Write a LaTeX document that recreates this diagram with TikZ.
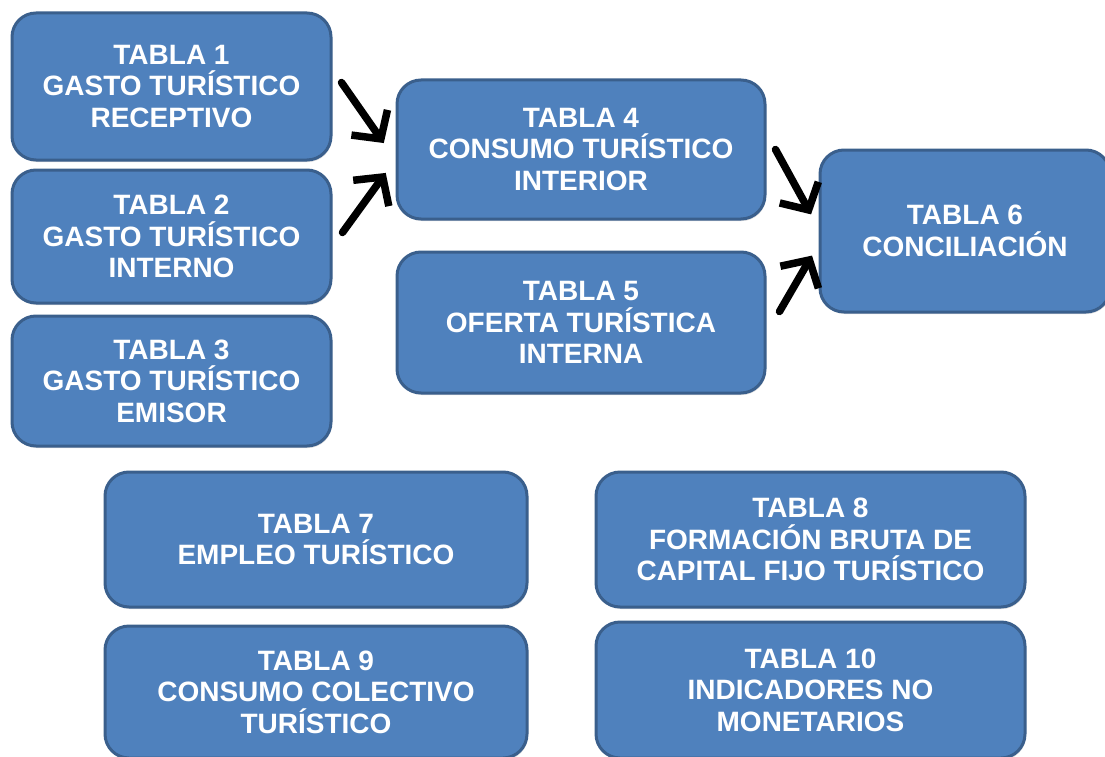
\documentclass[tikz,border=0pt]{standalone}
\usepackage{fontspec}
\setmainfont{Liberation Sans}
\usetikzlibrary{arrows.meta,calc,shadows}
\definecolor{boxfill}{HTML}{4F81BD}
\definecolor{boxline}{HTML}{3A5F8C}
\begin{document}
\begin{tikzpicture}[x=1pt,y=-1pt,
  tbox/.style={draw=boxline, line width=3pt, fill=boxfill, rounded corners=24pt,
    inner sep=0pt, align=center, text=white,
    font=\fontsize{28}{31.5}\selectfont\bfseries,
    drop shadow={opacity=0.25, shadow xshift=1pt, shadow yshift=-2pt}},
  arr/.style={line width=7.5pt, line cap=round, shorten >=3pt, -{Straight Barb[length=20pt,width=44pt,line width=7.5pt]}}
]
\useasboundingbox (0,0) rectangle (1105,757);
\clip (0,0) rectangle (1105,757);
\node[tbox, minimum width=319pt, minimum height=147pt] (t1) at (171.5,86.5) {TABLA 1\\GASTO TURÍSTICO\\RECEPTIVO};
\node[tbox, minimum width=319pt, minimum height=133pt] (t2) at (171.5,236.5) {TABLA 2\\GASTO TURÍSTICO\\INTERNO};
\node[tbox, minimum width=319pt, minimum height=130pt] (t3) at (171.5,381) {TABLA 3\\GASTO TURÍSTICO\\EMISOR};
\node[tbox, minimum width=368pt, minimum height=139pt] (t4) at (581,149.5) {TABLA 4\\CONSUMO TURÍSTICO\\INTERIOR};
\node[tbox, minimum width=368pt, minimum height=141pt] (t5) at (581,322.5) {TABLA 5\\OFERTA TURÍSTICA\\INTERNA};
\node[tbox, minimum width=290pt, minimum height=162pt] (t6) at (965,231) {TABLA 6\\CONCILIACIÓN};
\node[tbox, minimum width=422pt, minimum height=135pt] (t7) at (316,539.5) {TABLA 7\\EMPLEO TURÍSTICO};
\node[tbox, minimum width=429pt, minimum height=135pt] (t8) at (810.5,539.5) {TABLA 8\\FORMACIÓN BRUTA DE\\CAPITAL FIJO TURÍSTICO};
\node[tbox, minimum width=422pt, minimum height=132pt] (t9) at (316,692) {TABLA 9\\CONSUMO COLECTIVO\\TURÍSTICO};
\node[tbox, minimum width=429pt, minimum height=136pt] (t10) at (810.5,690) {TABLA 10\\INDICADORES NO\\MONETARIOS};
\draw[arr] ($(t1.east)+(9,-4)$) -- ($(t4.west)+(-10,-4)$);
\draw[arr] ($(t2.east)+(10,-4)$) -- ($(t4.west)+(-8,21)$);
\draw[arr] ($(t4.east)+(9,0)$) -- ($(t6.west)+(-6,-14)$);
\draw[arr] ($(t5.east)+(13,-11)$) -- ($(t6.west)+(-5,22)$);
\end{tikzpicture}
\end{document}
